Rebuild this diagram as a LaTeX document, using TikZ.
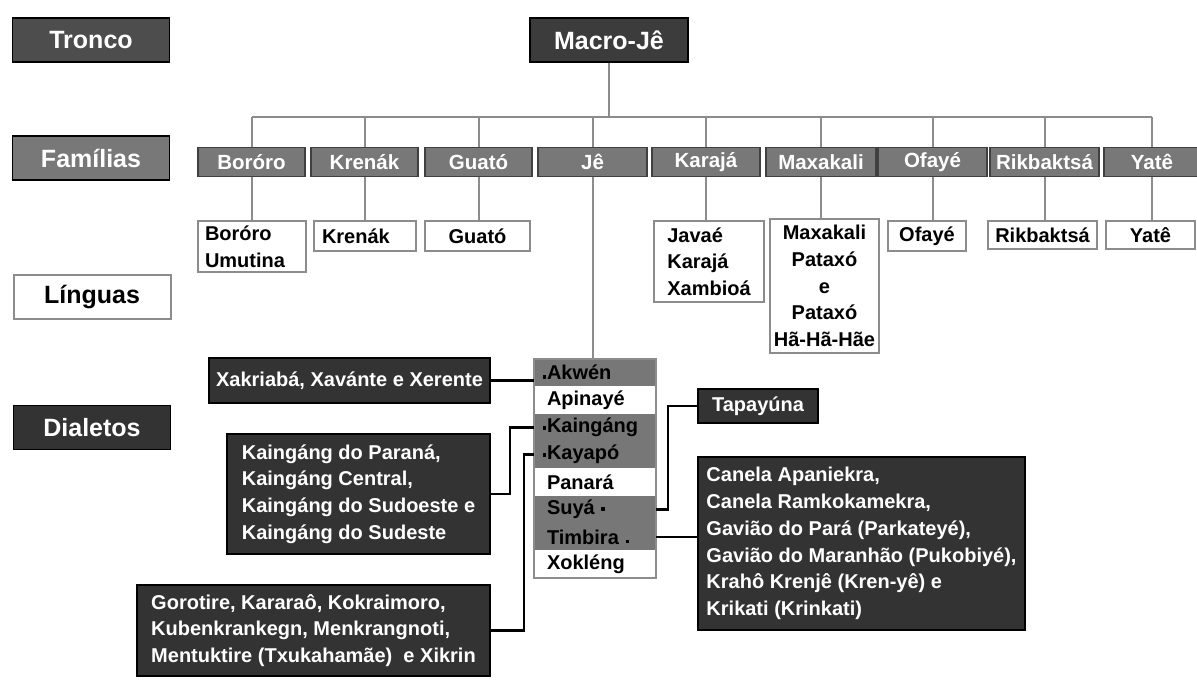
\documentclass[tikz,border=0pt]{standalone}
\usepackage{fontspec}
\setmainfont{Liberation Sans}
\usetikzlibrary{positioning}
\definecolor{boxdark}{HTML}{333333}
\definecolor{trunkgray}{HTML}{4D4D4D}
\definecolor{macrogray}{HTML}{3C3C3C}
\definecolor{famgray}{HTML}{787878}
\definecolor{rowgray}{HTML}{777777}
\definecolor{linegray}{HTML}{8C8C8C}
\newcommand*{\txthead}{\fontsize{25}{30}\selectfont\bfseries}
\newcommand*{\txtfam}{\fontsize{20.5}{24}\selectfont\bfseries}
\newcommand*{\txtbody}{\fontsize{20}{26.7}\selectfont\bfseries}
\newcommand*{\bul}[1]{\rule[#1]{3.5pt}{3.5pt}}
\tikzset{
  head/.style={draw=black, line width=1.5pt, minimum width=157pt, minimum height=44pt, inner sep=0pt, font=\txthead},
  fam/.style={draw=black!75, line width=1.2pt, fill=famgray, text=white, minimum height=29pt, inner sep=0pt, font=\txtfam},
  lang/.style={draw=linegray, line width=2pt, fill=white, inner sep=0pt, font=\txtbody},
  dial/.style={draw=black, line width=1.5pt, fill=boxdark, text=white, inner sep=0pt, font=\txtbody},
  row/.style={fill=#1, minimum width=122pt, minimum height=27pt, text width=96pt, inner xsep=13pt, inner ysep=0pt, align=left, font=\txtbody},
  tree/.style={draw=linegray, line width=2pt},
  link/.style={draw=black, line width=2.5pt},
}

\begin{document}
\begin{tikzpicture}[x=1pt,y=-1pt]
\useasboundingbox (0,0) rectangle (1197,680);
% levels
\node[head, fill=trunkgray, text=white] (tronco) at (91,40) {Tronco};
\node[head, fill=famgray, text=white] (familias) at (91,158) {Famílias};
\node[head, draw=linegray, line width=2pt, fill=white] (linguas) at (92,296.5) {Línguas};
\node[head, fill=boxdark, text=white] (dialetos) at (92,427.5) {Dialetos};
% trunk and families
\node[head, fill=macrogray, text=white, minimum width=158pt] (macro) at (609,40) {Macro-Jê};
\node[fam, minimum width=107pt] (fbororo) at (251.5,162) {Boróro};
\node[fam, minimum width=107pt] (fkrenak) at (364.5,162) {Krenák};
\node[fam, minimum width=107pt] (fguato) at (478.5,162) {Guató};
\node[fam, minimum width=109pt] (fje) at (592.5,162) {Jê};
\node[fam, minimum width=108pt] (fkaraja) at (706,162) {Karajá};
\node[fam, minimum width=110pt] (fmaxakali) at (821,162) {Maxakali};
\node[fam, minimum width=109pt] (fofaye) at (932.5,162) {Ofayé};
\node[fam, minimum width=109pt] (frikbaktsa) at (1044.5,162) {Rikbaktsá};
\node[fam, minimum width=96pt] (fyate) at (1152,162) {Yatê};
\coordinate (bus) at (0,117);
\draw[tree] (macro.south) -- (macro.south |- bus);
\draw[tree] (fbororo.north |- bus) -- (fyate.north |- bus);
\foreach \f in {bororo,krenak,guato,je,karaja,maxakali,ofaye,rikbaktsa,yate}
  \draw[tree] (f\f.north |- bus) -- (f\f.north);
% languages
\node[lang, minimum width=108pt, minimum height=51pt, text width=94pt, inner xsep=7pt, align=left] (lbororo) at (252,246.5) {Boróro\\Umutina};
\node[lang, minimum width=102pt, minimum height=30pt, text width=86pt, inner xsep=8pt, align=left] (lkrenak) at (365,236) {Krenák};
\node[lang, minimum width=105pt, minimum height=30pt] (lguato) at (477.5,236) {Guató};
\node[lang, minimum width=110pt, minimum height=81pt, align=left] (lkaraja) at (709,261.5) {Javaé\\Karajá\\Xambioá};
\node[lang, minimum width=109pt, minimum height=134pt, align=center] (lmaxakali) at (824.5,286) {Maxakali\\Pataxó\\e\\Pataxó\\Hã-Hã-Hãe};
\node[lang, minimum width=78pt, minimum height=30pt] (lofaye) at (927,236) {Ofayé};
\node[lang, minimum width=109pt, minimum height=28pt] (lrikbaktsa) at (1042.5,235) {Rikbaktsá};
\node[lang, minimum width=89pt, minimum height=28pt] (lyate) at (1150.5,235) {Yatê};
\foreach \f in {bororo,krenak,guato,karaja,maxakali,ofaye,rikbaktsa,yate}
  \draw[tree] (f\f.south) -- (f\f.south |- l\f.north);
% Je languages
\node[row=rowgray] (akwen) at (595,372.5) {\leavevmode\llap{\bul{1pt}\hspace{1pt}}Akwén};
\node[row=white, below=0pt of akwen] (apinaye) {Apinayé};
\node[row=rowgray, below=0pt of apinaye] (kaingang) {\leavevmode\llap{\bul{3pt}\hspace{1pt}}Kaingáng};
\node[row=rowgray, below=0pt of kaingang] (kayapo) {\leavevmode\llap{\bul{3pt}\hspace{1pt}}Kayapó};
\node[row=white, below=0pt of kayapo] (panara) {Panará};
\node[row=rowgray, below=0pt of panara] (suya) {Suyá \bul{4pt}};
\node[row=rowgray, below=0pt of suya] (timbira) {Timbira \bul{1pt}};
\node[row=white, below=0pt of timbira] (xokleng) {Xokléng};
\draw[linegray, line width=2pt] (akwen.north west) rectangle (xokleng.south east);
\draw[tree] (fje.south) -- (fje.south |- akwen.north);
% dialects
\node[dial, minimum width=281pt, minimum height=45pt] (xak) at (349.5,380.5) {Xakriabá, Xavánte e Xerente};
\node[dial, minimum width=263pt, minimum height=120pt, align=left] (kain) at (358.5,494)
  {Kaingáng do Paraná,\\Kaingáng Central,\\Kaingáng do Sudoeste e\\Kaingáng do Sudeste};
\node[dial, minimum width=353pt, minimum height=91pt, align=left] (goro) at (313.5,630.5)
  {Gorotire, Kararaô, Kokraimoro,\\Kubenkrankegn, Menkrangnoti,\\Mentuktire (Txukahamãe)\ \ e Xikrin};
\node[dial, minimum width=120pt, minimum height=34pt] (tapa) at (758,406) {Tapayúna};
\node[dial, minimum width=327pt, minimum height=173pt, align=left] (canela) at (861.5,543.5)
  {Canela Apaniekra,\\Canela Ramkokamekra,\\Gavião do Pará (Parkateyé),\\Gavião do Maranhão (Pukobiyé),\\Krahô Krenjê (Kren-yê) e\\Krikati (Krinkati)};
\draw[link] (xak.east) -- (xak.east -| akwen.west);
\draw[link] (kain.east) -- ++(19,0) |- (kaingang.west);
\draw[link] (goro.east) -- ++(33,0) |- (kayapo.west);
\draw[link] (suya.east) -- ++(12,0) |- (tapa.west);
\draw[link] (timbira.east) -- (timbira.east -| canela.west);
\end{tikzpicture}
\end{document}
